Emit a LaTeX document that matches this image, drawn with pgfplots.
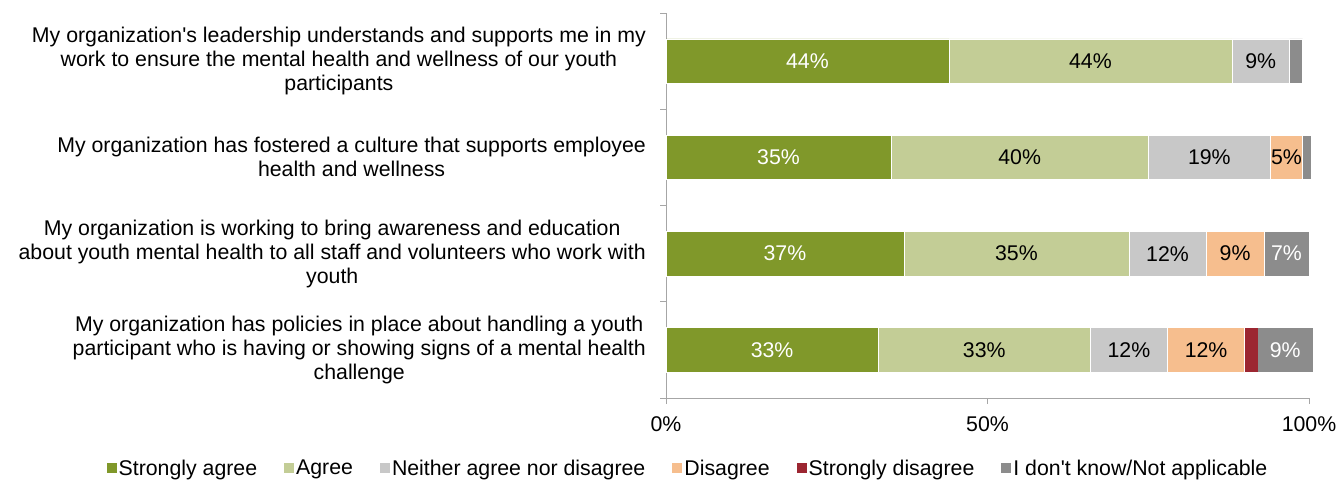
\documentclass[border=0pt]{standalone}
\usepackage{fontspec}
\setmainfont{Liberation Sans}
\usepackage{pgfplots}
\pgfplotsset{compat=1.18}
\definecolor{sa}{HTML}{80982A}
\definecolor{ag}{HTML}{C3CD96}
\definecolor{ne}{HTML}{C8C8C8}
\definecolor{di}{HTML}{F6BE8E}
\definecolor{sd}{HTML}{9C2631}
\definecolor{dk}{HTML}{8C8C8C}
\definecolor{axisgray}{HTML}{A6A6A6}
\newcommand{\fs}{\fontsize{21.3pt}{24pt}\selectfont}
\begin{document}
\begin{tikzpicture}
\useasboundingbox (0,0) rectangle (1340pt,480pt);
\begin{axis}[
  at={(666pt,82pt)}, anchor=south west,
  scale only axis, width=643pt, height=385pt,
  xbar stacked, bar width=0.46,
  xmin=0, xmax=100, ymin=-0.5, ymax=3.5,
  clip=false,
  axis x line=bottom, axis y line=left,
  axis line style={-, draw=axisgray, line width=1pt},
  xtick={0,50,100}, xticklabels={0\%,50\%,100\%},
  ytick={0,1,2,3},
  yticklabels={
    {My organization has policies in place about handling a youth\\participant who is having or showing signs of a mental health\\challenge},
    {My organization is working to bring awareness and education\\about youth mental health to all staff and volunteers who work with\\youth},
    {My organization has fostered a culture that supports employee\\health and wellness},
    {My organization\textquotesingle s leadership understands and supports me in my\\work to ensure the mental health and wellness of our youth\\participants}},
  minor ytick={-0.5,0.5,1.5,2.5,3.5},
  tick align=outside,
  major tick length=6pt, minor tick length=6pt,
  every major y tick/.append style={draw=none},
  every tick/.style={draw=axisgray, line width=1pt},
  tick label style={font=\fs, text=black},
  yticklabel style={align=center, inner sep=0pt, xshift=-14pt},
  xticklabel style={yshift=-9pt},
  nodes near coords, point meta=explicit symbolic,
  every node near coord/.append style={font=\fs, text=black},
  legend columns=6,
  legend style={draw=none, at={(0.0342,-0.182)}, anchor=center,
    font=\fs,
    /tikz/every even column/.append style={column sep=25pt}},
  legend image code/.code={\path[#1, draw=none] (0pt,-5pt) rectangle (10pt,5pt);},
]
\addplot[fill=sa, draw=white, line width=0.5pt, every node near coord/.append style={text=white}]
  coordinates {(33,0) [33\%] (37,1) [37\%] (35,2) [35\%] (44,3) [44\%]};
\addplot[fill=ag, draw=white, line width=0.5pt]
  coordinates {(33,0) [33\%] (35,1) [35\%] (40,2) [40\%] (44,3) [44\%]};
\addplot[fill=ne, draw=white, line width=0.5pt]
  coordinates {(12,0) [12\%] (12,1) [12\%] (19,2) [19\%] (9,3) [9\%]};
\addplot[fill=di, draw=white, line width=0.5pt]
  coordinates {(12,0) [12\%] (9,1) [9\%] (5,2) [5\%] (0,3) []};
\addplot[fill=sd, draw=none]
  coordinates {(2,0) [] (0,1) [] (0,2) [] (0,3) []};
\addplot[fill=dk, draw=white, line width=0.5pt, every node near coord/.append style={text=white}]
  coordinates {(8.6,0) [9\%] (7,1) [7\%] (1.3,2) [] (2,3) []};
\legend{Strongly agree, Agree, Neither agree nor disagree, Disagree, Strongly disagree, I don\textquotesingle t know/Not applicable}
\end{axis}
\end{tikzpicture}
\end{document}
